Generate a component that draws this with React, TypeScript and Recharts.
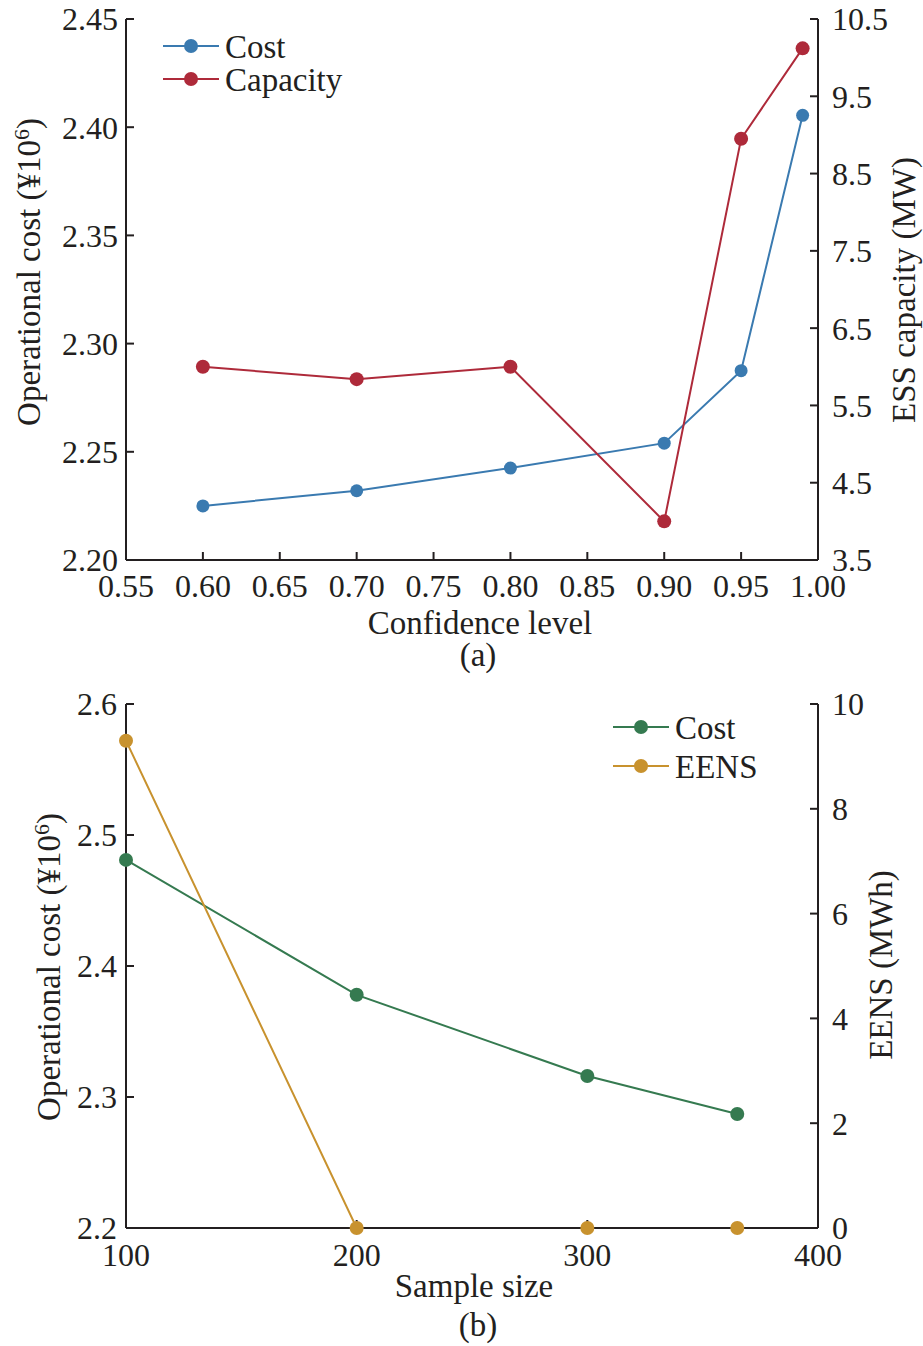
import React from "react";
import { LineChart, Line, XAxis, YAxis, Legend, Label } from "recharts";

// (a) confidence level sweep
const confidence = [0.6, 0.7, 0.8, 0.9, 0.95, 0.99];
const costA = [2.225, 2.232, 2.2425, 2.254, 2.2875, 2.4055];
const capacityA = [6.0, 5.84, 6.0, 4.0, 8.95, 10.12];
const confTicks = [0.55, 0.6, 0.65, 0.7, 0.75, 0.8, 0.85, 0.9, 0.95, 1.0];
const costATicks = [2.2, 2.25, 2.3, 2.35, 2.4, 2.45];
const capTicks = [3.5, 4.5, 5.5, 6.5, 7.5, 8.5, 9.5, 10.5];

// (b) sample size sweep
const samples = [100, 200, 300, 365];
const costB = [2.481, 2.378, 2.316, 2.287];
const eens = [9.3, 0, 0, 0];
const sampleTicks = [100, 200, 300, 400];
const costBTicks = [2.2, 2.3, 2.4, 2.5, 2.6];
const eensTicks = [0, 2, 4, 6, 8, 10];

const FONT = "'Liberation Serif', 'Times New Roman', serif";
const INK = "#231f20";
const COLORS = {
  blue: "#3a7ab0",
  red: "#ae2a3a",
  green: "#357a50",
  gold: "#c8922e",
};

const dataA = confidence.map((c, i) => ({ c, cost: costA[i], cap: capacityA[i] }));
const dataB = samples.map((s, i) => ({ s, cost: costB[i], eens: eens[i] }));

const tickStyle = { fill: INK, fontSize: 32, fontFamily: FONT };
const axisLine = { stroke: INK, strokeWidth: 2 };
const tickLine = { stroke: INK, strokeWidth: 2 };

function LegendBox({ items, gap }: { items: { name: string; color: string }[]; gap: number }) {
  return (
    <svg width={260} height={20 + gap * items.length}>
      {items.map((it, i) => {
        const y = 20 + i * gap;
        return (
          <g key={it.name}>
            <line x1={8} x2={64} y1={y} y2={y} stroke={it.color} strokeWidth={2} />
            <circle cx={36} cy={y} r={7} fill={it.color} />
            <text x={70} y={y} dy="0.35em" fontFamily={FONT} fontSize={33} fill={INK}>
              {it.name}
            </text>
          </g>
        );
      })}
    </svg>
  );
}

function YTitle({ x, y, children }: { x: number; y: number; children: React.ReactNode }) {
  return (
    <text
      x={x}
      y={y}
      transform={`rotate(-90 ${x} ${y})`}
      textAnchor="middle"
      dy="0.35em"
      fontFamily={FONT}
      fontSize={33}
      fill={INK}
    >
      {children}
    </text>
  );
}

const costTitle = (
  <>
    Operational cost (¥10<tspan dy="-11" fontSize={22}>6</tspan>
    <tspan dy="11">)</tspan>
  </>
);

function ChartA() {
  return (
    <LineChart width={923} height={676} data={dataA} margin={{ top: 19, right: 0, bottom: 0, left: 0 }}>
      <XAxis
        dataKey="c"
        type="number"
        domain={[0.55, 1.0]}
        ticks={confTicks}
        tickFormatter={(v: number) => v.toFixed(2)}
        tick={tickStyle}
        axisLine={axisLine}
        tickLine={tickLine}
        tickSize={-8}
        tickMargin={22}
        height={116}
        interval={0}
      >
        <Label
          content={() => (
            <g fontFamily={FONT} fontSize={33} fill={INK}>
              <text x={480} y={634} textAnchor="middle">Confidence level</text>
              <text x={478} y={666} textAnchor="middle">(a)</text>
              <YTitle x={28} y={272}>{costTitle}</YTitle>
              <YTitle x={903} y={290}>ESS capacity (MW)</YTitle>
            </g>
          )}
        />
      </XAxis>
      <YAxis
        yAxisId="left"
        width={126}
        domain={[2.2, 2.45]}
        ticks={costATicks}
        tickFormatter={(v: number) => v.toFixed(2)}
        tick={tickStyle}
        axisLine={axisLine}
        tickLine={tickLine}
        tickSize={-8}
        tickMargin={16}
        interval={0}
      />
      <YAxis
        yAxisId="right"
        orientation="right"
        width={105}
        domain={[3.5, 10.5]}
        ticks={capTicks}
        tickFormatter={(v: number) => v.toFixed(1)}
        tick={tickStyle}
        axisLine={axisLine}
        tickLine={tickLine}
        tickSize={-8}
        tickMargin={22}
        interval={0}
      />
      <Legend
        layout="horizontal"
        verticalAlign="middle"
        align="center"
        wrapperStyle={{ position: "absolute", left: 155, top: 26, width: 260 }}
        content={() => (
          <LegendBox
            gap={33}
            items={[
              { name: "Cost", color: COLORS.blue },
              { name: "Capacity", color: COLORS.red },
            ]}
          />
        )}
      />
      <Line
        yAxisId="left"
        dataKey="cost"
        stroke={COLORS.blue}
        strokeWidth={2}
        dot={{ r: 6.5, fill: COLORS.blue, stroke: COLORS.blue, strokeWidth: 0 }}
        isAnimationActive={false}
      />
      <Line
        yAxisId="right"
        dataKey="cap"
        stroke={COLORS.red}
        strokeWidth={2}
        dot={{ r: 7, fill: COLORS.red, stroke: COLORS.red, strokeWidth: 0 }}
        isAnimationActive={false}
      />
    </LineChart>
  );
}

function ChartB() {
  return (
    <LineChart width={923} height={670} data={dataB} margin={{ top: 28, right: 0, bottom: 0, left: 0 }}>
      <XAxis
        dataKey="s"
        type="number"
        domain={[100, 400]}
        ticks={sampleTicks}
        tick={tickStyle}
        axisLine={axisLine}
        tickLine={tickLine}
        tickSize={-8}
        tickMargin={23}
        height={118}
        interval={0}
      >
        <Label
          content={() => (
            <g fontFamily={FONT} fontSize={33} fill={INK}>
              <text x={474} y={621} textAnchor="middle">Sample size</text>
              <text x={478} y={660} textAnchor="middle">(b)</text>
              <YTitle x={48} y={291}>{costTitle}</YTitle>
              <YTitle x={880} y={289}>EENS (MWh)</YTitle>
            </g>
          )}
        />
      </XAxis>
      <YAxis
        yAxisId="left"
        width={126}
        domain={[2.2, 2.6]}
        ticks={costBTicks}
        tickFormatter={(v: number) => v.toFixed(1)}
        tick={tickStyle}
        axisLine={axisLine}
        tickLine={tickLine}
        tickSize={-8}
        tickMargin={17}
        interval={0}
      />
      <YAxis
        yAxisId="right"
        orientation="right"
        width={105}
        domain={[0, 10]}
        ticks={eensTicks}
        tick={tickStyle}
        axisLine={axisLine}
        tickLine={tickLine}
        tickSize={-8}
        tickMargin={22}
        interval={0}
      />
      <Legend
        layout="horizontal"
        verticalAlign="middle"
        align="center"
        wrapperStyle={{ position: "absolute", left: 605, top: 31, width: 260 }}
        content={() => (
          <LegendBox
            gap={39}
            items={[
              { name: "Cost", color: COLORS.green },
              { name: "EENS", color: COLORS.gold },
            ]}
          />
        )}
      />
      <Line
        yAxisId="left"
        dataKey="cost"
        stroke={COLORS.green}
        strokeWidth={2}
        dot={{ r: 7, fill: COLORS.green, stroke: COLORS.green, strokeWidth: 0 }}
        isAnimationActive={false}
      />
      <Line
        yAxisId="right"
        dataKey="eens"
        stroke={COLORS.gold}
        strokeWidth={2}
        dot={{ r: 7, fill: COLORS.gold, stroke: COLORS.gold, strokeWidth: 0 }}
        isAnimationActive={false}
      />
    </LineChart>
  );
}

export default function App() {
  return (
    <div style={{ position: "absolute", left: 0, top: 0, width: 923, height: 1346, background: "#fff" }}>
      <ChartA />
      <ChartB />
    </div>
  );
}
